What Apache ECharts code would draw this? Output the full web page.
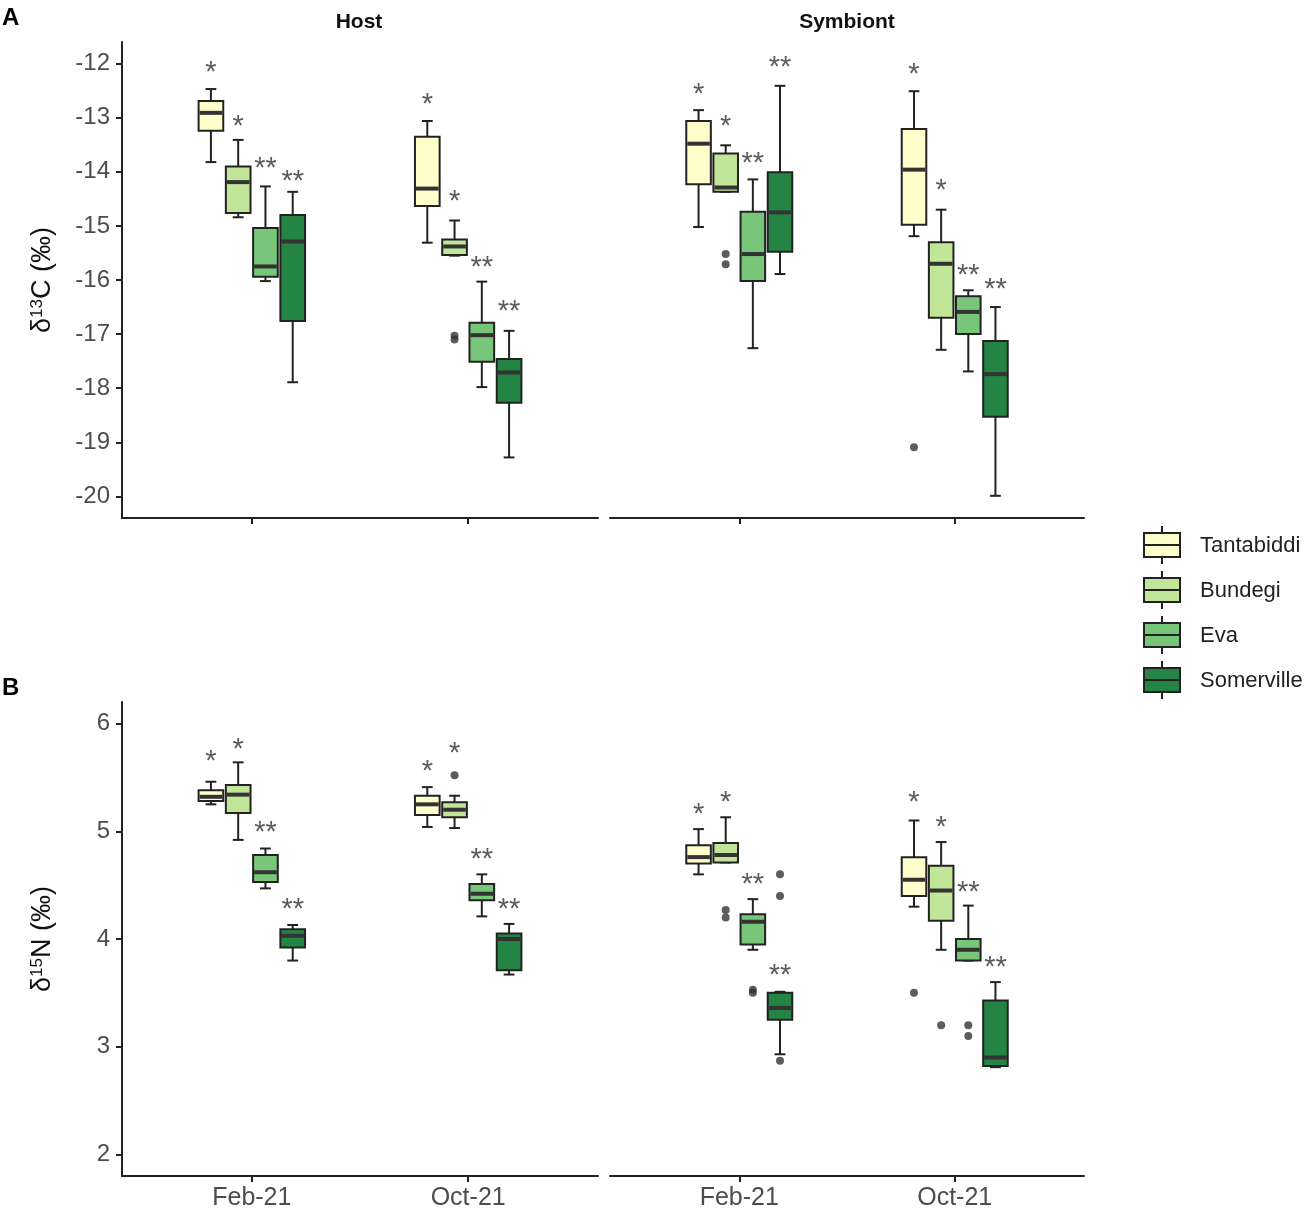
<!DOCTYPE html>
<html lang="en">
<head>
    <meta charset="UTF-8">
    <title>Host / Symbiont isotopes</title>
    <style>
        html, body { margin: 0; padding: 0; background: #fff; }
        #chart { width: 1312px; height: 1212px; }
    </style>
    <script src="https://cdn.jsdelivr.net/npm/echarts@6/dist/echarts.min.js"></script>
</head>
<body>
    <div id="chart"></div>
    <script>
        // categories
        var MONTHS = ['Feb-21', 'Oct-21'];
        var SITES = ['Tantabiddi', 'Bundegi', 'Eva', 'Somerville'];
        var STARS = ['*', '*', '**', '**'];

        // [site][month] -> [lower whisker, Q1, median, Q3, upper whisker]
        var hostC = [
            [[-13.82, -13.24, -12.91, -12.69, -12.47], [-15.31, -14.63, -14.31, -13.35, -13.06]],
            [[-14.84, -14.76, -14.19, -13.90, -13.41], [-15.55, -15.54, -15.38, -15.25, -14.90]],
            [[-16.02, -15.94, -15.75, -15.04, -14.27], [-17.98, -17.51, -17.02, -16.79, -16.03]],
            [[-17.89, -16.76, -15.29, -14.80, -14.37], [-19.28, -18.27, -17.71, -17.46, -16.94]]
        ];
        var symC = [
            [[-15.02, -14.23, -13.48, -13.06, -12.86], [-15.19, -14.98, -13.96, -13.21, -12.51]],
            [[-14.37, -14.37, -14.29, -13.66, -13.51], [-17.29, -16.70, -15.70, -15.30, -14.70]],
            [[-17.26, -16.02, -15.52, -14.74, -14.14], [-17.69, -17.00, -16.59, -16.30, -16.19]],
            [[-15.89, -15.48, -14.75, -14.01, -12.41], [-19.99, -18.53, -17.74, -17.13, -16.50]]
        ];
        var hostN = [
            [[5.25, 5.28, 5.32, 5.38, 5.46], [5.04, 5.15, 5.25, 5.33, 5.41]],
            [[4.92, 5.17, 5.34, 5.43, 5.64], [5.03, 5.13, 5.20, 5.27, 5.33]],
            [[4.47, 4.53, 4.62, 4.78, 4.84], [4.21, 4.36, 4.42, 4.51, 4.60]],
            [[3.80, 3.92, 4.03, 4.09, 4.13], [3.67, 3.71, 4.00, 4.05, 4.14]]
        ];
        var symN = [
            [[4.60, 4.70, 4.76, 4.87, 5.02], [4.30, 4.40, 4.55, 4.76, 5.10]],
            [[4.71, 4.71, 4.78, 4.89, 5.13], [3.90, 4.17, 4.45, 4.68, 4.90]],
            [[3.90, 3.95, 4.16, 4.23, 4.37], [3.80, 3.80, 3.90, 4.00, 4.31]],
            [[2.93, 3.25, 3.36, 3.50, 3.51], [2.81, 2.82, 2.90, 3.43, 3.60]]
        ];

        // outliers: [site, month, value]
        var hostCOut = [[1, 1, -17.03], [1, 1, -17.10]];
        var symCOut = [[1, 0, -15.52], [1, 0, -15.71], [0, 1, -19.09]];
        var hostNOut = [[1, 1, 5.52]];
        var symNOut = [
            [1, 0, 4.27], [1, 0, 4.20], [2, 0, 3.53], [2, 0, 3.50],
            [3, 0, 4.60], [3, 0, 4.40], [3, 0, 2.87],
            [0, 1, 3.50], [1, 1, 3.20], [2, 1, 3.20], [2, 1, 3.10]
        ];

        // significance label heights: [site][month]
        var hostCStar = [[-12.08, -12.68], [-13.08, -14.46], [-13.86, -15.68], [-14.09, -16.49]];
        var symCStar = [[-12.49, -12.11], [-13.08, -14.27], [-13.77, -15.83], [-11.99, -16.10]];
        var hostNStar = [[5.69, 5.60], [5.80, 5.76], [5.03, 4.78], [4.32, 4.32]];
        var symNStar = [[5.20, 5.31], [5.31, 5.08], [4.55, 4.47], [3.70, 3.78]];

        // tick labels
        var C_TICKS = [-20, -19, -18, -17, -16, -15, -14, -13, -12];
        var N_TICKS = [2, 3, 4, 5, 6];

        //样式
        var SITE_COLORS = ['#FFFFCC', '#C2E699', '#78C679', '#238443'];
        var INK = '#222';
        var FONT = 'Liberation Sans, Arial, sans-serif';
        var DODGE = 0.126;   // distance between neighbouring boxes, in axis units
        var BOX_W = 0.114;
        var CAP_W = 0.05;

        function xPos(site, month) {
            return month + 1 + (site - 1.5) * DODGE;
        }

        var panels = [
            {box: hostC, out: hostCOut, star: hostCStar, grid: 0},
            {box: symC, out: symCOut, star: symCStar, grid: 1},
            {box: hostN, out: hostNOut, star: hostNStar, grid: 2},
            {box: symN, out: symNOut, star: symNStar, grid: 3}
        ];

        function renderBox(params, api) {
            var x = api.value(0);
            var color = SITE_COLORS[api.value(6)];
            var pLo = api.coord([x, api.value(1)]);
            var pQ1 = api.coord([x, api.value(2)]);
            var pMed = api.coord([x, api.value(3)]);
            var pQ3 = api.coord([x, api.value(4)]);
            var pHi = api.coord([x, api.value(5)]);
            var left = api.coord([x - BOX_W / 2, 0])[0];
            var right = api.coord([x + BOX_W / 2, 0])[0];
            var capL = api.coord([x - CAP_W / 2, 0])[0];
            var capR = api.coord([x + CAP_W / 2, 0])[0];
            var px = pMed[0];
            var line = {stroke: INK, lineWidth: 2};
            return {
                type: 'group',
                children: [
                    {type: 'line', shape: {x1: px, y1: pHi[1], x2: px, y2: pQ3[1]}, style: line},
                    {type: 'line', shape: {x1: px, y1: pLo[1], x2: px, y2: pQ1[1]}, style: line},
                    {type: 'line', shape: {x1: capL, y1: pHi[1], x2: capR, y2: pHi[1]}, style: line},
                    {type: 'line', shape: {x1: capL, y1: pLo[1], x2: capR, y2: pLo[1]}, style: line},
                    {
                        type: 'rect',
                        shape: {x: left, y: pQ3[1], width: right - left, height: pQ1[1] - pQ3[1]},
                        style: {fill: color, stroke: INK, lineWidth: 2}
                    },
                    {
                        type: 'line',
                        shape: {x1: left + 1, y1: pMed[1], x2: right - 1, y2: pMed[1]},
                        style: {stroke: '#333', lineWidth: 4}
                    }
                ]
            };
        }

        var series = [];
        panels.forEach(function (p) {
            SITES.forEach(function (name, s) {
                var boxData = p.box[s].map(function (v, m) {
                    return [xPos(s, m)].concat(v).concat([s]);
                });
                series.push({
                    name: name,
                    type: 'custom',
                    xAxisIndex: p.grid,
                    yAxisIndex: p.grid,
                    renderItem: renderBox,
                    encode: {x: 0, y: [1, 5]},
                    data: boxData,
                    z: 2
                });
                series.push({
                    type: 'scatter',
                    xAxisIndex: p.grid,
                    yAxisIndex: p.grid,
                    symbolSize: 0,
                    data: p.star[s].map(function (v, m) { return [xPos(s, m), v]; }),
                    label: {
                        show: true,
                        position: 'inside',
                        offset: [0, 5],
                        formatter: STARS[s],
                        fontFamily: FONT,
                        fontSize: 29,
                        color: '#333'
                    },
                    silent: true,
                    z: 3
                });
            });
            series.push({
                type: 'scatter',
                xAxisIndex: p.grid,
                yAxisIndex: p.grid,
                symbolSize: 8,
                itemStyle: {color: '#333'},
                data: p.out.map(function (o) { return [xPos(o[0], o[1]), o[2]]; }),
                z: 4
            });
        });

        var grids = [
            {left: 122, top: 42, width: 476, height: 476},
            {left: 610, top: 42, width: 474, height: 476},
            {left: 122, top: 702, width: 476, height: 474},
            {left: 610, top: 702, width: 474, height: 474}
        ];

        var xAxes = grids.map(function (g, i) {
            return {
                type: 'value',
                gridIndex: i,
                min: 0.4,
                max: 2.6,
                splitLine: {show: false},
                axisLine: {show: true, onZero: false, lineStyle: {color: INK, width: 2}},
                axisTick: {show: true, customValues: [1, 2], length: 6, lineStyle: {color: INK, width: 2}},
                axisLabel: {
                    show: i >= 2,
                    customValues: [1, 2],
                    formatter: function (v) { return MONTHS[Math.round(v) - 1]; },
                    fontFamily: FONT,
                    fontSize: 25,
                    color: '#4d4d4d',
                    margin: 10
                }
            };
        });

        function yAxis(i, ticks, min, max, name) {
            var show = i % 2 === 0;
            return {
                type: 'value',
                gridIndex: i,
                min: min,
                max: max,
                show: show,
                splitLine: {show: false},
                axisLine: {show: true, lineStyle: {color: INK, width: 2}},
                axisTick: {show: true, customValues: ticks, length: 6, lineStyle: {color: INK, width: 2}},
                axisLabel: {
                    customValues: ticks,
                    fontFamily: FONT,
                    fontSize: 24,
                    color: '#4d4d4d',
                    margin: 12
                },
                name: name,
                nameLocation: 'middle',
                nameGap: 66,
                nameTextStyle: {
                    fontFamily: FONT,
                    fontSize: 27,
                    color: '#111',
                    rich: {
                        a: {fontFamily: FONT, fontSize: 27, color: '#111'},
                        b: {fontFamily: FONT, fontSize: 17, color: '#111', verticalAlign: 'top'}
                    }
                }
            };
        }

        var yAxes = [
            yAxis(0, C_TICKS, -20.4, -11.6, '{a|δ}{b|13}{a|C (‰)}'),
            yAxis(1, C_TICKS, -20.4, -11.6, ''),
            yAxis(2, N_TICKS, 1.8, 6.2, '{a|δ}{b|15}{a|N (‰)}'),
            yAxis(3, N_TICKS, 1.8, 6.2, '')
        ];

        // 图例：手绘的箱线图符号
        var legendItems = [];
        SITES.forEach(function (name, s) {
            legendItems.push({
                type: 'group',
                x: 1144,
                y: 545 + s * 45,
                children: [
                    {type: 'line', shape: {x1: 18, y1: -19, x2: 18, y2: -12}, style: {stroke: INK, lineWidth: 2}},
                    {type: 'line', shape: {x1: 18, y1: 12, x2: 18, y2: 19}, style: {stroke: INK, lineWidth: 2}},
                    {type: 'rect', shape: {x: 0, y: -12, width: 36, height: 24}, style: {fill: SITE_COLORS[s], stroke: INK, lineWidth: 2}},
                    {type: 'line', shape: {x1: 0, y1: 0, x2: 36, y2: 0}, style: {stroke: INK, lineWidth: 2}},
                    {type: 'text', x: 56, y: 1, style: {text: name, fontFamily: FONT, fontSize: 22, fill: '#222', verticalAlign: 'middle'}}
                ]
            });
        });

        var texts = [
            {type: 'text', left: 2, top: 6, style: {text: 'A', fontFamily: FONT, fontSize: 24, fontWeight: 'bold', fill: '#000'}},
            {type: 'text', left: 2, top: 676, style: {text: 'B', fontFamily: FONT, fontSize: 24, fontWeight: 'bold', fill: '#000'}}
        ];

        var option = {
            animation: false,
            backgroundColor: '#fff',
            title: [
                {text: 'Host', left: 354, top: 7, textAlign: 'center',
                    textStyle: {fontFamily: FONT, fontSize: 21, fontWeight: 'bold', color: '#111'}},
                {text: 'Symbiont', left: 842, top: 7, textAlign: 'center',
                    textStyle: {fontFamily: FONT, fontSize: 21, fontWeight: 'bold', color: '#111'}}
            ],
            grid: grids,
            xAxis: xAxes,
            yAxis: yAxes,
            series: series,
            graphic: texts.concat(legendItems)
        };

        var chart = echarts.init(document.getElementById('chart'));
        chart.setOption(option);
    </script>
</body>
</html>
